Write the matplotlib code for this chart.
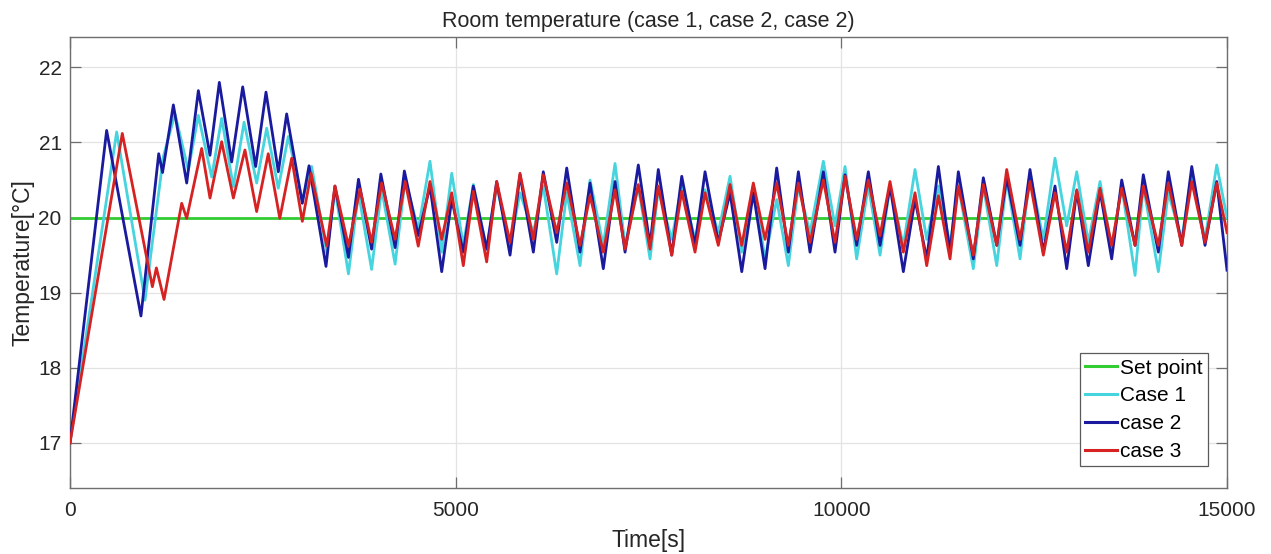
import numpy as np
import matplotlib
matplotlib.use("Agg")
import matplotlib.pyplot as plt

plt.rcParams["font.family"] = ["Liberation Sans", "DejaVu Sans"]

# ---------------- data ----------------
set_point = 20.0
t_end = 15000

# start-up transient (alternating turning points), per case
case1_t0 = [0, 605, 972, 1210, 1361, 1534, 1664, 1837, 1966, 2118, 2257, 2420, 2550,
            2700, 2830, 3012, 3133, 3329, 3435, 3610, 3740, 3910, 4040, 4215, 4345, 4515]
case1_y0 = [17.0, 21.14, 18.9, 20.81, 21.38, 20.63, 21.36, 20.54, 21.32, 20.41, 21.27, 20.46, 21.19,
            20.39, 21.08, 20.23, 20.68, 19.53, 20.38, 19.25, 20.33, 19.31, 20.38, 19.38, 20.51, 19.84]

case2_t0 = [0, 475, 920, 1150, 1200, 1340, 1513, 1664, 1815, 1936, 2096, 2239, 2407, 2541,
            2701, 2809, 3012, 3099, 3319, 3435, 3610, 3740, 3910, 4030, 4215, 4335, 4515]
case2_y0 = [17.0, 21.16, 18.69, 20.85, 20.6, 21.5, 20.46, 21.69, 20.83, 21.8, 20.74, 21.74, 20.68, 21.67,
            20.61, 21.38, 20.19, 20.69, 19.35, 20.42, 19.47, 20.51, 19.58, 20.58, 19.6, 20.62, 19.76]

case3_t0 = [0, 678, 1068, 1120, 1219, 1448, 1513, 1707, 1815, 1966, 2118, 2268, 2420, 2570,
            2720, 2874, 3012, 3125, 3329, 3435, 3610, 3760, 3910, 4040, 4215, 4345, 4515]
case3_y0 = [17.0, 21.12, 19.08, 19.33, 18.91, 20.19, 19.99, 20.92, 20.26, 21.01, 20.26, 20.9, 20.08, 20.85,
            19.99, 20.79, 19.95, 20.59, 19.62, 20.42, 19.62, 20.38, 19.67, 20.46, 19.71, 20.48, 19.62]

# limit-cycle part: times of the maxima and minima
peak_times = [4667, 4949, 5229, 5532, 5834, 6136, 6440, 6742, 7066, 7368, 7627, 7931, 8233, 8557,
              8859, 9162, 9443, 9767, 10048, 10350, 10631, 10955, 11258, 11517, 11841, 12144,
              12446, 12770, 13052, 13354, 13635, 13915, 14239, 14543, 14867]
trough_times = [4819, 5099, 5402, 5705, 6007, 6310, 6612, 6914, 7196, 7520, 7801, 8103, 8405, 8709,
                9011, 9313, 9594, 9918, 10199, 10502, 10804, 11107, 11409, 11711, 12015, 12317,
                12619, 12922, 13202, 13505, 13808, 14110, 14413, 14715]

case1_peaks = [20.75, 20.59, 20.44, 20.42, 20.33, 20.42, 20.33, 20.5, 20.72, 20.42, 20.37, 20.42,
               20.37, 20.55, 20.42, 20.24, 20.42, 20.75, 20.68, 20.42, 20.42, 20.64, 20.42, 20.42,
               20.42, 20.5, 20.59, 20.79, 20.61, 20.48, 20.42, 20.42, 20.33, 20.59, 20.7]
case1_troughs = [19.54, 19.63, 19.58, 19.63, 19.8, 19.25, 19.36, 19.63, 19.63, 19.45, 19.71, 19.71,
                 19.8, 19.54, 19.45, 19.36, 19.8, 19.89, 19.45, 19.5, 19.63, 19.71, 19.63, 19.32,
                 19.36, 19.45, 19.71, 19.89, 19.67, 19.58, 19.23, 19.28, 19.71, 19.71]

case2_peaks = [20.42, 20.24, 20.42, 20.48, 20.57, 20.61, 20.66, 20.46, 20.48, 20.7, 20.64, 20.55,
               20.61, 20.33, 20.33, 20.66, 20.61, 20.61, 20.57, 20.61, 20.42, 20.24, 20.68, 20.61,
               20.53, 20.53, 20.64, 20.42, 20.35, 20.35, 20.5, 20.57, 20.61, 20.68, 20.48]
case2_troughs = [19.28, 19.54, 19.58, 19.5, 19.54, 19.67, 19.54, 19.32, 19.54, 19.63, 19.5, 19.63,
                 19.67, 19.28, 19.32, 19.54, 19.54, 19.54, 19.63, 19.63, 19.28, 19.45, 19.54, 19.45,
                 19.63, 19.63, 19.54, 19.32, 19.36, 19.45, 19.63, 19.54, 19.63, 19.63]

case3_peaks = [20.48, 20.33, 20.35, 20.48, 20.59, 20.57, 20.46, 20.29, 20.37, 20.44, 20.42, 20.35,
               20.33, 20.44, 20.46, 20.46, 20.46, 20.5, 20.55, 20.5, 20.48, 20.33, 20.29, 20.42,
               20.44, 20.64, 20.48, 20.33, 20.37, 20.39, 20.39, 20.42, 20.46, 20.48, 20.46]
case3_troughs = [19.71, 19.36, 19.41, 19.67, 19.71, 19.8, 19.63, 19.54, 19.58, 19.58, 19.5, 19.54,
                 19.63, 19.63, 19.71, 19.63, 19.67, 19.67, 19.71, 19.76, 19.54, 19.36, 19.45, 19.5,
                 19.63, 19.71, 19.5, 19.54, 19.54, 19.63, 19.63, 19.63, 19.63, 19.67]

case1_end, case2_end, case3_end = 20.0, 19.3, 19.8

labels = ["Set point", "Case 1", "case 2", "case 3"]
x_ticks = [0, 5000, 10000, 15000]
y_ticks = [17, 18, 19, 20, 21, 22]


def build(t0, y0, peaks, troughs, y_end):
    """Join the start-up turning points with the alternating max/min sequence."""
    t_cyc = np.empty(len(peak_times) + len(trough_times))
    y_cyc = np.empty_like(t_cyc)
    t_cyc[0::2], t_cyc[1::2] = peak_times, trough_times
    y_cyc[0::2], y_cyc[1::2] = peaks, troughs
    t = np.concatenate([t0, t_cyc, [t_end]])
    y = np.concatenate([y0, y_cyc, [y_end]])
    return t, y


t1, y1 = build(case1_t0, case1_y0, case1_peaks, case1_troughs, case1_end)
t2, y2 = build(case2_t0, case2_y0, case2_peaks, case2_troughs, case2_end)
t3, y3 = build(case3_t0, case3_y0, case3_peaks, case3_troughs, case3_end)

# ---------------- figure ----------------
W, H = 1271, 554
fig = plt.figure(figsize=(W / 100, H / 100), dpi=100)
ax = fig.add_axes([70 / W, 1 - 488 / H, 1157 / W, (488 - 37.3) / H])

lw = 2.0
ax.plot([0, t_end], [set_point, set_point], color="#33cc33", lw=lw, label=labels[0], zorder=2)
ax.plot(t1, y1, color="#46d4de", lw=lw, label=labels[1], zorder=3)
ax.plot(t2, y2, color="#1a1a9e", lw=lw, label=labels[2], zorder=4)
ax.plot(t3, y3, color="#d62222", lw=lw, label=labels[3], zorder=5)

ax.set_xlim(0, t_end)
ax.set_ylim(16.4, 22.4)
ax.set_xticks(x_ticks)
ax.set_yticks(y_ticks)
ax.grid(True, color="#e3e3e3", lw=0.9, zorder=0)
ax.set_axisbelow(True)

for s in ax.spines.values():
    s.set_color("#6e6e6e")
    s.set_linewidth(1.0)
ax.tick_params(direction="in", length=8, width=0.9, color="#6e6e6e",
               top=True, right=True, labelsize=15, labelcolor="#262626")
ax.tick_params(axis="x", pad=9)
ax.tick_params(axis="y", pad=6)

ax.set_title("Room temperature (case 1, case 2, case 2)", fontsize=15.5, color="#262626",
             y=1.034, va="center", pad=0)
ax.set_xlabel("Time[s]", fontsize=16.5, color="#262626", va="center")
ax.xaxis.set_label_coords(0.5, -0.1154)
ax.set_ylabel("Temperature[°C]", fontsize=16.5, color="#262626", va="center")
ax.yaxis.set_label_coords(-0.041, 0.5)

leg = ax.legend(loc="lower right", bbox_to_anchor=(0.9838, 0.0488), borderaxespad=0,
                fontsize=15, fancybox=False, framealpha=1, edgecolor="#5a5a5a",
                handlelength=1.55, handletextpad=0.15, labelspacing=0.42, borderpad=0.25)
leg.get_frame().set_linewidth(0.9)
for line in leg.get_lines():
    line.set_linewidth(2.2)

fig.savefig("out.png", dpi=100)
